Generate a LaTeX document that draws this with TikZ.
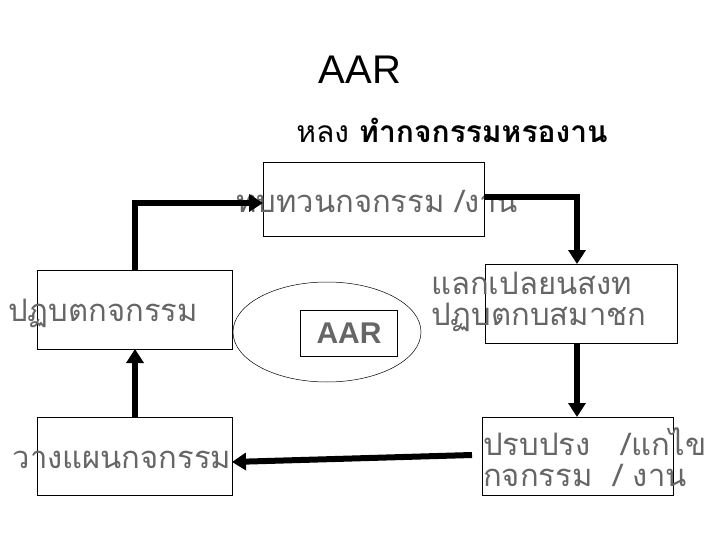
\documentclass[tikz,border=0pt]{standalone}
\usepackage{fontspec}
\setmainfont{Liberation Sans}
\newfontfamily\thai[Script=Thai]{Loma}
\usetikzlibrary{arrows.meta}
\begin{document}
\begin{tikzpicture}[x=1pt,y=-1pt,
  box/.style={draw,line width=0.8pt,inner sep=0pt},
  conn/.style={line width=6pt,-{Triangle[length=14pt,width=17pt]}},
  lbl/.style={text=gray!80!black,font=\thai\fontsize{31}{31}\selectfont,inner sep=0pt}]
\useasboundingbox (0,0) rectangle (720,540);
\node (title) at (360,70) {\fontsize{40}{44}\selectfont AAR};
\node (sub) at (452,130) {\thai\fontsize{30}{32}\selectfont หลง \textbf{ทำกจกรรมหรองาน}};
\draw[box] (263,162) rectangle (484,236);
\coordinate (tl) at (263,203); \coordinate (tr) at (484,197);
\draw[box] (37,270) rectangle (232,349);
\coordinate (lt) at (135,270); \coordinate (lb) at (135,349);
\draw[box] (485,264) rectangle (677,343);
\coordinate (rt) at (577,264); \coordinate (rb) at (577,343);
\draw[box] (482,417) rectangle (673,495);
\coordinate (brt) at (577,417); \coordinate (brl) at (472,455);
\draw[box] (37,417) rectangle (232,495);
\coordinate (blt) at (135,417); \coordinate (blr) at (232,462);
\draw[line width=0.5pt] (327,332) ellipse [x radius=94,y radius=50];
\draw[box] (300,310) rectangle (397,356);
\node[lbl] (top) at (377,201) {ทบทวนกจกรรม /งาน};
\node[lbl] (left) at (103,313) {ปฏบตกจกรรม};
\node[lbl,anchor=west,align=left] (right) at (431,302) {แลกเปลยนสงท\\ปฏบตกบสมาชก};
\node[lbl,anchor=west,align=left] (br) at (483,457) {ปรบปรง \ \ /แกไข\\กจกรรม \ / งาน};
\node[lbl] (bl) at (122,460) {วางแผนกจกรรม};
\node[text=gray!80!black,font=\bfseries\fontsize{30}{32}\selectfont] (aar) at (349,333) {AAR};
\draw[conn] (blt) -- (lb);
\draw[conn] (lt) |- (tl);
\draw[conn] (tr) -| (rt);
\draw[conn] (rb) -- (brt);
\draw[conn] (brl) -- (blr);
\end{tikzpicture}
\end{document}
